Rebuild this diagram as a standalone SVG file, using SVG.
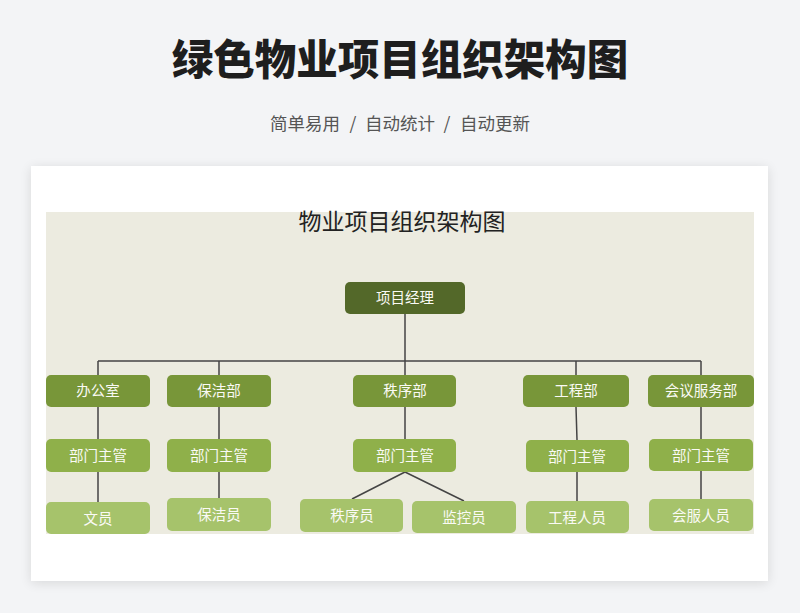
<svg xmlns="http://www.w3.org/2000/svg" width="800" height="613" viewBox="0 0 800 613">
<defs>
<filter id="sh" x="-10%" y="-10%" width="120%" height="120%">
<feGaussianBlur in="SourceAlpha" stdDeviation="6"/>
<feOffset dy="2"/>
<feComponentTransfer><feFuncA type="linear" slope="0.12"/></feComponentTransfer>
<feMerge><feMergeNode/><feMergeNode in="SourceGraphic"/></feMerge>
</filter>
<style>
text{font-family:"Noto Sans CJK SC","Noto Sans",sans-serif;}
.t{font-size:41.5px;font-weight:900;fill:#1e1e1e;text-anchor:middle;}
.s{font-size:17.5px;fill:#555;text-anchor:middle;}
.it{font-size:23px;fill:#222;text-anchor:middle;}
.l{font-size:14.5px;fill:#fafaf5;text-anchor:middle;}
.n0{fill:#536829;}
.n1{fill:#789639;}
.n2{fill:#8fb04a;}
.n3{fill:#a6c36b;}
.c{stroke:#444;stroke-width:1.5;fill:none;}
</style>
</defs>
<rect width="800" height="613" fill="#f3f4f6"/>
<text class="t" x="400" y="75">绿色物业项目组织架构图</text>
<g class="s">
<text class="s" x="305" y="130">简单易用</text>
<text class="s" x="353" y="130">/</text>
<text class="s" x="400" y="130">自动统计</text>
<text class="s" x="447" y="130">/</text>
<text class="s" x="495" y="130">自动更新</text>
</g>
<rect x="31" y="166" width="737" height="415" fill="#fff" filter="url(#sh)"/>
<rect x="46" y="212" width="708" height="322" fill="#ecebe0"/>
<text class="it" x="402" y="230">物业项目组织架构图</text>
<g id="connectors" class="c">
<path d="M405 314V375M98 361H701M98 361V375M219 361V375M576 361V375M701 361V375"/>
<path d="M98 407V439M219 407V439M405 407V439M576 407L577 440M701 407V439"/>
<path d="M98 472V502M219 472V498M577 472V501M701 471V499"/>
<path d="M405 472L352 499M405 472L464 501"/>
</g>
<g id="n-manager"><rect class="n0" x="345" y="282" width="120" height="32" rx="5"/><text class="l" x="405" y="303">项目经理</text></g>
<g id="n-office"><rect class="n1" x="46" y="375" width="104" height="32" rx="5"/><text class="l" x="98" y="396">办公室</text></g>
<g id="n-clean"><rect class="n1" x="167" y="375" width="104" height="32" rx="5"/><text class="l" x="219" y="396">保洁部</text></g>
<g id="n-order"><rect class="n1" x="353" y="375" width="103" height="32" rx="5"/><text class="l" x="405" y="396">秩序部</text></g>
<g id="n-eng"><rect class="n1" x="523" y="375" width="106" height="32" rx="5"/><text class="l" x="576" y="396">工程部</text></g>
<g id="n-meet"><rect class="n1" x="648" y="375" width="106" height="32" rx="5"/><text class="l" x="701" y="396">会议服务部</text></g>
<g id="n-office-m"><rect class="n2" x="46" y="439" width="104" height="33" rx="5"/><text class="l" x="98" y="461">部门主管</text></g>
<g id="n-clean-m"><rect class="n2" x="167" y="439" width="104" height="33" rx="5"/><text class="l" x="219" y="461">部门主管</text></g>
<g id="n-order-m"><rect class="n2" x="353" y="439" width="103" height="33" rx="5"/><text class="l" x="405" y="461">部门主管</text></g>
<g id="n-eng-m"><rect class="n2" x="526" y="440" width="103" height="32" rx="5"/><text class="l" x="577" y="462">部门主管</text></g>
<g id="n-meet-m"><rect class="n2" x="649" y="439" width="104" height="32" rx="5"/><text class="l" x="701" y="461">部门主管</text></g>
<g id="n-clerk"><rect class="n3" x="46" y="502" width="104" height="32" rx="5"/><text class="l" x="98" y="524">文员</text></g>
<g id="n-cleaner"><rect class="n3" x="167" y="498" width="104" height="33" rx="5"/><text class="l" x="219" y="520">保洁员</text></g>
<g id="n-guard"><rect class="n3" x="300" y="499" width="103" height="33" rx="5"/><text class="l" x="352" y="521">秩序员</text></g>
<g id="n-monitor"><rect class="n3" x="412" y="501" width="104" height="32" rx="5"/><text class="l" x="464" y="523">监控员</text></g>
<g id="n-engineer"><rect class="n3" x="526" y="501" width="103" height="32" rx="5"/><text class="l" x="577" y="523">工程人员</text></g>
<g id="n-meetstaff"><rect class="n3" x="649" y="499" width="104" height="32" rx="5"/><text class="l" x="701" y="521">会服人员</text></g>
</svg>
